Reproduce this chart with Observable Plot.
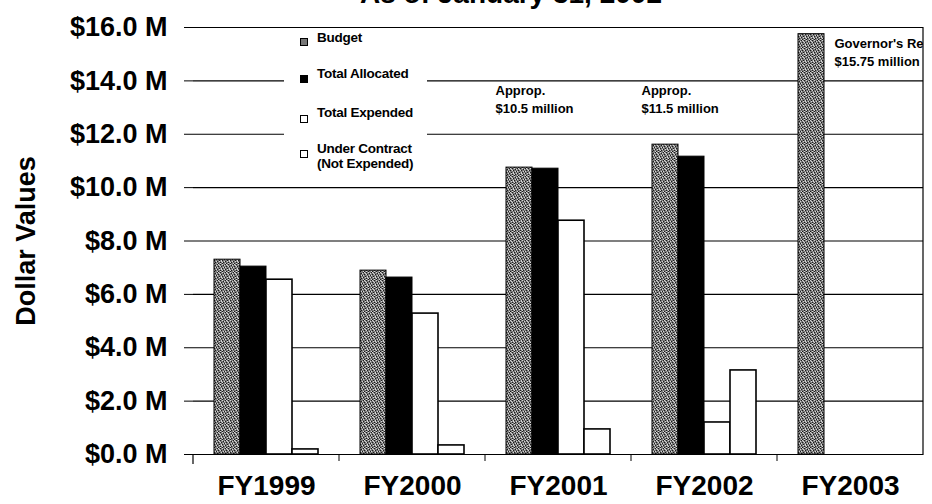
<!DOCTYPE html>
<html>
<head>
<meta charset="utf-8">
<script src="https://cdn.jsdelivr.net/npm/d3@7"></script>
<script src="https://cdn.jsdelivr.net/npm/@observablehq/plot@0.6"></script>
<style>
  html, body { margin: 0; padding: 0; background: #fff; }
  body { font-family: "Liberation Sans", Arial, sans-serif; }
  #wrap { position: relative; width: 932px; height: 504px; overflow: hidden; background: #fff; }
  #title { position: absolute; left: 0; top: -20px; width: 1022px; text-align: center;
           font-weight: bold; font-size: 28px; line-height: 28px; color: #000; }
  #chart { position: absolute; left: 0; top: 0; }
  #legend { position: absolute; left: 284px; top: 30px; width: 143px; height: 150px; background: #fff; }
  .item { position: absolute; font-weight: bold; font-size: 13.5px; line-height: 15px;
          letter-spacing: -0.25px; color: #000; white-space: nowrap; }
  .sw { position: absolute; width: 6px; height: 6px; border: 1px solid #000; }
</style>
</head>
<body>
<div id="wrap">
  <div id="chart"></div>
  <div id="title">As of January 31, 2002</div>
  <div id="legend"></div>
</div>
<script>
// ---- data ----
const years = ["FY1999", "FY2000", "FY2001", "FY2002", "FY2003"];
const seriesNames = ["Budget", "Total Allocated", "Total Expended", "Under Contract"];
const budget = [7.30, 6.89, 10.75, 11.61, 15.75];
const allocated = [7.04, 6.63, 10.71, 11.16, null];
const expended = [6.55, 5.28, 8.76, 1.20, null];
const underContract = [0.19, 0.34, 0.94, 3.15, null];
const yTicks = [0, 2, 4, 6, 8, 10, 12, 14, 16];
const legendLabels = ["Budget", "Total Allocated", "Total Expended", "Under Contract\n(Not Expended)"];
const appropNotes = [
  {year: "FY2001", series: "Budget", value: 13.36, text: "Approp.\n$10.5 million"},
  {year: "FY2002", series: "Budget", value: 13.36, text: "Approp.\n$11.5 million"}
];
const governorNotes = [
  {year: "FY2003", series: "Budget", value: 15.12, text: "Governor's Rec\n$15.75 million"}
];

(function () {
const seriesValues = [budget, allocated, expended, underContract];
const rows = years.flatMap((year, i) =>
  seriesNames.map((series, j) => ({year, series, value: seriesValues[j][i]}))
).filter(d => d.value != null);
const of = s => rows.filter(d => d.series === s);

const font = '"Liberation Sans", Arial, sans-serif';

const plot = Plot.plot({
  width: 932,
  height: 504,
  marginTop: 27,
  marginBottom: 50,
  marginLeft: 192,
  marginRight: 9,
  style: {fontFamily: font, color: "#000", background: "#fff"},
  x: {domain: seriesNames, paddingInner: 0, paddingOuter: 0.755, axis: null},
  fx: {domain: years, padding: 0, axis: null},
  y: {domain: [0, 16], axis: null},
  marks: [
    Plot.gridY(yTicks, {stroke: "#000", strokeOpacity: 1, strokeWidth: 1.2}),
    Plot.barY(of("Budget"), {fx: "year", x: "series", y: "value", fill: "url(#stipple)", stroke: "#000", strokeWidth: 1}),
    Plot.barY(of("Total Allocated"), {fx: "year", x: "series", y: "value", fill: "#000", stroke: "#000", strokeWidth: 1}),
    Plot.barY(of("Total Expended"), {fx: "year", x: "series", y: "value", fill: "#fff", stroke: "#000", strokeWidth: 1.6}),
    Plot.barY(of("Under Contract"), {fx: "year", x: "series", y: "value", fill: "#fff", stroke: "#000", strokeWidth: 1.6}),
    Plot.axisY({
      ticks: yTicks, tickFormat: d => `$${d.toFixed(1)} M`, tickSize: 9, tickPadding: 17,
      fontSize: 27, fontWeight: "bold", stroke: "#000",
      label: "Dollar Values", labelAnchor: "center", labelArrow: "none", labelOffset: 178, line: true
    }),
    Plot.axisFx({anchor: "bottom", tickSize: 0, tickPadding: 21, fontSize: 28, fontWeight: "bold", label: null}),
    Plot.text(appropNotes, {fx: "year", x: "series", y: "value", text: "text", textAnchor: "start", dx: -24,
      fontSize: 13, fontWeight: "bold", lineHeight: 1.45, lineAnchor: "middle", fill: "#000"}),
    Plot.text(governorNotes, {fx: "year", x: "series", y: "value", text: "text", textAnchor: "start", dx: 23,
      fontSize: 13, fontWeight: "bold", lineHeight: 1.4, lineAnchor: "middle", fill: "#000", clip: true})
  ]
});

// stipple texture for the "Budget" bars (fixed 8x8 tile of light and dark dots)
const svg = d3.select(plot.tagName.toLowerCase() === "svg" ? plot : plot.querySelector("svg"));
const defs = svg.insert("defs", ":first-child");
const pat = defs.append("pattern").attr("id", "stipple").attr("width", 8).attr("height", 8)
  .attr("patternUnits", "userSpaceOnUse");
pat.append("rect").attr("width", 8).attr("height", 8).attr("fill", "#7a7a7a");
const darkDots = [[0,0],[3,0],[6,1],[1,2],[4,2],[7,3],[2,4],[5,4],[0,5],[3,6],[6,6],[1,7],[5,7]];
const lightDots = [[1,0],[5,0],[2,1],[7,1],[3,2],[6,3],[0,3],[4,4],[7,5],[2,5],[5,6],[0,7],[3,7],[4,5]];
darkDots.forEach(([x, y]) => pat.append("rect").attr("x", x).attr("y", y).attr("width", 1).attr("height", 1).attr("fill", "#1a1a1a"));
lightDots.forEach(([x, y]) => pat.append("rect").attr("x", x).attr("y", y).attr("width", 1).attr("height", 1).attr("fill", "#d6d6d6"));

// category boundary ticks below the baseline and the right frame line, from the scales
const fx = plot.scale("fx");
const yS = plot.scale("y");
const baseY = yS.apply(0);
const topY = yS.apply(16);
years.slice(1).forEach(yr => {
  const x = fx.apply(yr);
  svg.append("line").attr("x1", x).attr("x2", x).attr("y1", baseY).attr("y2", baseY + 7)
    .attr("stroke", "#000").attr("stroke-width", 1);
});
const leftX = fx.apply(years[0]);
svg.append("line").attr("x1", leftX).attr("x2", leftX).attr("y1", baseY).attr("y2", baseY + 10)
  .attr("stroke", "#000").attr("stroke-width", 1.2);
const rightX = fx.apply(years[years.length - 1]) + fx.bandwidth;
svg.append("line").attr("x1", rightX).attr("x2", rightX).attr("y1", topY).attr("y2", baseY + 1)
  .attr("stroke", "#000").attr("stroke-width", 1.2);

document.getElementById("chart").appendChild(plot);

// legend
const legend = document.getElementById("legend");
const swTops = [8, 45, 85, 120];
const txtTops = [0, 36, 75, 111];
const swFill = ["#777", "#000", "#fff", "#fff"];
legendLabels.forEach((lab, i) => {
  const sw = document.createElement("div");
  sw.className = "sw";
  sw.style.left = "16px";
  sw.style.top = swTops[i] + "px";
  sw.style.background = swFill[i];
  legend.appendChild(sw);
  const t = document.createElement("div");
  t.className = "item";
  t.style.left = "33px";
  t.style.top = txtTops[i] + "px";
  t.innerHTML = lab.split("\n").join("<br>");
  legend.appendChild(t);
});
})();
</script>
</body>
</html>
